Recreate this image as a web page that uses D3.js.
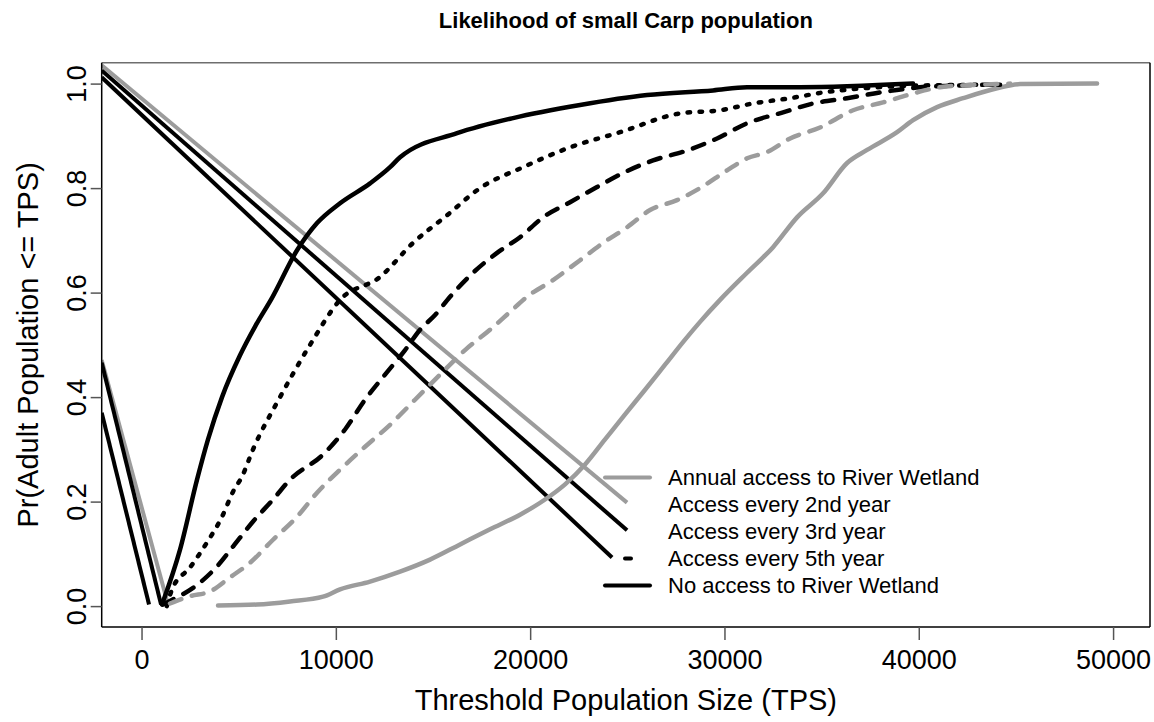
<!DOCTYPE html>
<html>
<head>
<meta charset="utf-8">
<script src="https://cdn.jsdelivr.net/npm/d3@7"></script>
<style>
  body { margin: 0; background: #fff; }
  text { font-family: "Liberation Sans", Arial, sans-serif; fill: #000; }
</style>
</head>
<body>
<div id="chart"></div>
<script>
// ---- data ----
var seriesNames = ['Annual access to River Wetland', 'Access every 2nd year',
  'Access every 3rd year', 'Access every 5th year', 'No access to River Wetland'];

// Annual access (gray solid)
var annualX = [3937, 5944, 7643, 9341, 10216, 11760, 13304, 14848, 16392, 17936, 19480, 20767,
  21796, 22826, 23855, 24884, 25914, 26943, 27972, 28744, 29774, 31163, 32501, 33736, 35075,
  36310, 37340, 38884, 39707, 40942, 42280, 44030, 45213, 49176];
var annualP = [0.001, 0.003, 0.009, 0.018, 0.032, 0.047, 0.066, 0.089, 0.118, 0.147, 0.175, 0.204,
  0.233, 0.271, 0.319, 0.367, 0.414, 0.462, 0.510, 0.544, 0.586, 0.638, 0.687, 0.744, 0.790,
  0.848, 0.873, 0.907, 0.930, 0.955, 0.972, 0.991, 0.999, 1.0];

// Every 2nd year (black dotted)
var second2X = [1300, 1570, 2496, 3371, 4143, 4709, 5173, 5739, 7128, 8672, 10216, 12275, 13973,
  15723, 17422, 19635, 22054, 24627, 27715, 29774, 31472, 33376, 35075, 37134, 39707, 44185];
var second2P = [0.0, 0.032, 0.074, 0.122, 0.171, 0.219, 0.248, 0.300, 0.400, 0.500, 0.586, 0.630,
  0.695, 0.748, 0.800, 0.840, 0.878, 0.907, 0.943, 0.949, 0.962, 0.972, 0.983, 0.991, 0.996, 0.998];

// Every 3rd year (black dashed)
var third3X = [1100, 1312, 3011, 3886, 4709, 5739, 6768, 7643, 9341, 10473, 11503, 12532, 13562,
  14334, 15106, 15878, 17062, 18297, 19480, 20664, 22054, 23443, 24781, 26325, 28075, 29619,
  31163, 33016, 34560, 36310, 37998, 40057, 41757, 43816];
var third3P = [0.003, 0.007, 0.045, 0.076, 0.114, 0.162, 0.204, 0.242, 0.290, 0.338, 0.395, 0.443,
  0.490, 0.529, 0.557, 0.592, 0.638, 0.676, 0.706, 0.744, 0.773, 0.802, 0.829, 0.853, 0.872,
  0.895, 0.924, 0.945, 0.962, 0.972, 0.983, 0.993, 0.996, 0.998];

// Every 5th year (gray dashed)
var fifth5X = [1467, 2496, 3525, 4555, 5584, 6768, 8003, 9033, 10216, 11503, 12789, 14076, 15363,
  16649, 17936, 18965, 19840, 21178, 22568, 23752, 24987, 26171, 27560, 28744, 30134, 31163,
  32192, 33376, 34920, 36619, 38163, 39707, 41096, 43155, 44700];
var fifth5P = [0.005, 0.019, 0.028, 0.055, 0.083, 0.127, 0.171, 0.217, 0.261, 0.305, 0.347, 0.395,
  0.443, 0.490, 0.529, 0.563, 0.592, 0.624, 0.662, 0.695, 0.725, 0.758, 0.777, 0.800, 0.834,
  0.857, 0.869, 0.895, 0.916, 0.949, 0.964, 0.981, 0.993, 0.998, 1.0];

// No access (black solid)
var noneX = [1055, 1981, 2856, 3422, 4143, 5069, 5842, 6716, 8003, 9033, 10216, 11760, 12790,
  13304, 16238, 19120, 22568, 26016, 29413, 31163, 33890, 39707];
var noneP = [0.003, 0.108, 0.242, 0.319, 0.400, 0.480, 0.535, 0.590, 0.681, 0.733, 0.771, 0.809,
  0.840, 0.859, 0.905, 0.934, 0.959, 0.978, 0.987, 0.993, 0.993, 1.0];

// stray straight segments that appear in the picture (start, end)
var strayX = [[-2050, 24987], [-2050, 24987], [-2050, 24215], [-2050, 1364], [-2050, 1004], [-2050, 386]];
var strayP = [[1.035, 0.198], [1.025, 0.145], [1.012, 0.093], [0.471, 0.003], [0.466, 0.003], [0.370, 0.003]];
var strayGray = [true, false, false, true, false, false];

var xTicks = [0, 10000, 20000, 30000, 40000, 50000];
var yTicks = [0, 0.2, 0.4, 0.6, 0.8, 1.0];

// ---- layout ----
var W = 1154, H = 722;
var plot = {left: 101.7, right: 1150, top: 62.7, bottom: 627};
var gray = '#9c9c9c';

var x = d3.scaleLinear().domain([-2050, 51900]).range([plot.left, plot.right]);
var y = d3.scaleLinear().domain([-0.04, 1.04]).range([plot.bottom, plot.top]);

var svg = d3.select('#chart').append('svg')
  .attr('width', W)
  .attr('height', H);

svg.append('clipPath').attr('id', 'clip')
  .append('rect')
  .attr('x', plot.left).attr('y', plot.top)
  .attr('width', plot.right - plot.left).attr('height', plot.bottom - plot.top);

var straight = d3.line()
  .x(function(d) { return x(d[0]); })
  .y(function(d) { return y(d[1]); });

var smooth = d3.line()
  .curve(d3.curveMonotoneX)
  .x(function(d) { return x(d[0]); })
  .y(function(d) { return y(d[1]); });

function zipXY(xs, ps) {
  return xs.map(function(v, i) { return [v, ps[i]]; });
}

var series = [
  {xs: annualX, ps: annualP, color: gray, dash: null},
  {xs: second2X, ps: second2P, color: '#000', dash: '2.5,9.5'},
  {xs: third3X, ps: third3P, color: '#000', dash: '12,11'},
  {xs: fifth5X, ps: fifth5P, color: gray, dash: '12,11'},
  {xs: noneX, ps: noneP, color: '#000', dash: null}
];

var g = svg.append('g').attr('clip-path', 'url(#clip)');

// stray segments first
strayX.forEach(function(xs, i) {
  g.append('path')
    .attr('d', straight(zipXY(xs, strayP[i])))
    .attr('fill', 'none')
    .attr('stroke', strayGray[i] ? gray : '#000')
    .attr('stroke-width', 4);
});

series.forEach(function(s) {
  g.append('path')
    .attr('d', smooth(zipXY(s.xs, s.ps)))
    .attr('fill', 'none')
    .attr('stroke', s.color)
    .attr('stroke-width', 4.5)
    .attr('stroke-linecap', 'round')
    .attr('stroke-linejoin', 'round')
    .attr('stroke-dasharray', s.dash);
});

// ---- box ----
svg.append('line').attr('x1', plot.left).attr('x2', plot.right).attr('y1', plot.top).attr('y2', plot.top)
  .attr('stroke', '#6e6e6e').attr('stroke-width', 1.5);
svg.append('line').attr('x1', plot.left).attr('x2', plot.right).attr('y1', plot.bottom).attr('y2', plot.bottom)
  .attr('stroke', '#000').attr('stroke-width', 1.5);
svg.append('line').attr('x1', plot.left).attr('x2', plot.left).attr('y1', plot.top).attr('y2', plot.bottom)
  .attr('stroke', '#000').attr('stroke-width', 1.5);
svg.append('line').attr('x1', plot.right).attr('x2', plot.right).attr('y1', plot.top).attr('y2', plot.bottom)
  .attr('stroke', '#000').attr('stroke-width', 1.5);

// ---- axes ----
var xAxis = svg.append('g')
  .attr('transform', 'translate(0,' + plot.bottom + ')')
  .call(d3.axisBottom(x).tickValues(xTicks).tickSize(13).tickPadding(10).tickFormat(d3.format('d')));
xAxis.select('.domain').remove();
xAxis.selectAll('line').attr('stroke', '#555').attr('stroke-width', 1.5);
xAxis.selectAll('text').style('font-size', '27px').attr('fill', '#000');

var yAxis = svg.append('g')
  .attr('transform', 'translate(' + plot.left + ',0)')
  .call(d3.axisLeft(y).tickValues(yTicks).tickSize(11).tickFormat(d3.format('.1f')));
yAxis.select('.domain').remove();
yAxis.selectAll('line').attr('stroke', '#555').attr('stroke-width', 1.5);
yAxis.selectAll('text')
  .style('font-size', '27px')
  .attr('fill', '#000')
  .attr('x', 0).attr('y', -16).attr('dy', 0)
  .attr('text-anchor', 'middle')
  .attr('transform', 'rotate(-90)');

// ---- titles ----
var cx = (plot.left + plot.right) / 2;
svg.append('text')
  .attr('x', cx).attr('y', 28)
  .attr('text-anchor', 'middle')
  .style('font-size', '22px').style('font-weight', 'bold')
  .text('Likelihood of small Carp population');

svg.append('text')
  .attr('x', cx).attr('y', 710)
  .attr('text-anchor', 'middle')
  .style('font-size', '29px')
  .text('Threshold Population Size (TPS)');

svg.append('text')
  .attr('transform', 'translate(38,' + ((plot.top + plot.bottom) / 2) + ') rotate(-90)')
  .attr('text-anchor', 'middle')
  .style('font-size', '29px')
  .text('Pr(Adult Population <= TPS)');

// ---- legend (samples only visible for first and last rows) ----
var legX = 605, legY = 477.5, legStep = 27;
var leg = svg.append('g');
seriesNames.forEach(function(name, i) {
  var yy = legY + i * legStep;
  if (i === 0 || i === 4) {
    leg.append('line')
      .attr('x1', legX).attr('x2', legX + 45).attr('y1', yy).attr('y2', yy)
      .attr('stroke', i === 0 ? gray : '#000').attr('stroke-width', 4).attr('stroke-linecap', 'round');
  }
  if (i === 3) {
    leg.append('line')
      .attr('x1', legX + 20).attr('x2', legX + 26).attr('y1', yy).attr('y2', yy)
      .attr('stroke', '#000').attr('stroke-width', 4).attr('stroke-linecap', 'round');
  }
  leg.append('text')
    .attr('x', 668).attr('y', yy + 7.5)
    .style('font-size', '22px')
    .text(name);
});
</script>
</body>
</html>
